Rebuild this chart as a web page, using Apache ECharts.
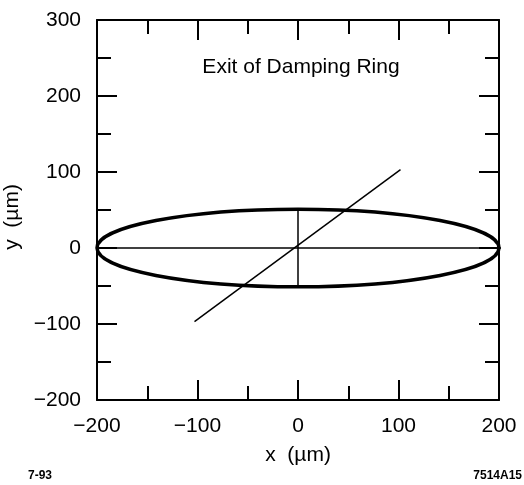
<!DOCTYPE html>
<html>
<head>
<meta charset="utf-8">
<script src="https://cdn.jsdelivr.net/npm/echarts@6/dist/echarts.min.js"></script>
<style>
  html, body { margin: 0; padding: 0; background: #fff; }
  #chart { width: 524px; height: 485px; }
</style>
</head>
<body>
<div id="chart"></div>
<script>
// beam ellipse: centre x, centre y, half width, half height (um)
var ellipse = [[0, 0, 200, 51]];
var tiltedLine = [[-103, -97], [102, 103]];
var centerLine = [[0, -51], [0, 51]];
var zeroLine = [[-216, 0], [226, 0]];

var xTicks = [-200, -100, 0, 100, 200];
var yTicks = [-200, -100, 0, 100, 200, 300];

var font = '"Liberation Sans", Arial, sans-serif';

function minus(v) {
    return String(v).replace('-', '\u2212');
}

function frameAxis(pos, isX, show) {
    var ticks = isX ? xTicks : yTicks;
    return {
        type: 'value',
        position: pos,
        min: ticks[0],
        max: ticks[ticks.length - 1],
        interval: 100,
        axisLine: { show: true, onZero: false, lineStyle: { color: '#000', width: 2 } },
        axisTick: { show: true, inside: true, length: 20, lineStyle: { color: '#000', width: 2 } },
        minorTick: { show: true, splitNumber: 2, length: 14, lineStyle: { color: '#000', width: 2 } },
        splitLine: { show: false },
        axisLabel: {
            show: show,
            color: '#000',
            fontFamily: font,
            fontSize: 21,
            margin: 16,
            formatter: minus
        }
    };
}

var chart = echarts.init(document.getElementById('chart'));

var xBottom = frameAxis('bottom', true, true);
xBottom.name = 'x  (\u00b5m)';
xBottom.nameLocation = 'middle';
xBottom.nameGap = 45;
xBottom.nameTextStyle = { color: '#000', fontFamily: font, fontSize: 21 };

var yLeft = frameAxis('left', false, true);
yLeft.name = 'y  (\u00b5m)';
yLeft.nameLocation = 'middle';
yLeft.nameGap = 57;
yLeft.nameTextStyle = { color: '#000', fontFamily: font, fontSize: 21, padding: [0, 14, 0, 0] };

var option = {
    animation: false,
    backgroundColor: '#fff',
    grid: { left: 97, right: 25, top: 20, bottom: 85, outerBoundsMode: 'none' },
    xAxis: [xBottom, frameAxis('top', true, false)],
    yAxis: [yLeft, frameAxis('right', false, false)],
    graphic: [
        { type: 'text', x: 301, y: 67, style: { text: 'Exit of Damping Ring', fontFamily: font, fontSize: 21, fill: '#000', textAlign: 'center', textVerticalAlign: 'middle' } },
        { type: 'text', x: 28, y: 476, style: { text: '7-93', fontFamily: font, fontSize: 12, fontWeight: 'bold', fill: '#000', textVerticalAlign: 'middle' } },
        { type: 'text', x: 522, y: 476, style: { text: '7514A15', fontFamily: font, fontSize: 12, fontWeight: 'bold', fill: '#000', textAlign: 'right', textVerticalAlign: 'middle' } }
    ],
    series: [
        {
            type: 'custom',
            clip: false,
            data: ellipse,
            renderItem: function (params, api) {
                var c = api.coord([api.value(0), api.value(1)]);
                var r = api.size([api.value(2), api.value(3)]);
                return {
                    type: 'ellipse',
                    shape: { cx: c[0], cy: c[1], rx: r[0], ry: r[1] },
                    style: { fill: 'none', stroke: '#000', lineWidth: 3.5 }
                };
            }
        },
        { type: 'line', data: zeroLine, clip: false, showSymbol: false, lineStyle: { color: '#000', width: 1.5 } },
        { type: 'line', data: centerLine, showSymbol: false, lineStyle: { color: '#000', width: 1.5 } },
        { type: 'line', data: tiltedLine, showSymbol: false, lineStyle: { color: '#000', width: 1.5 } }
    ]
};
chart.setOption(option);
</script>
</body>
</html>
